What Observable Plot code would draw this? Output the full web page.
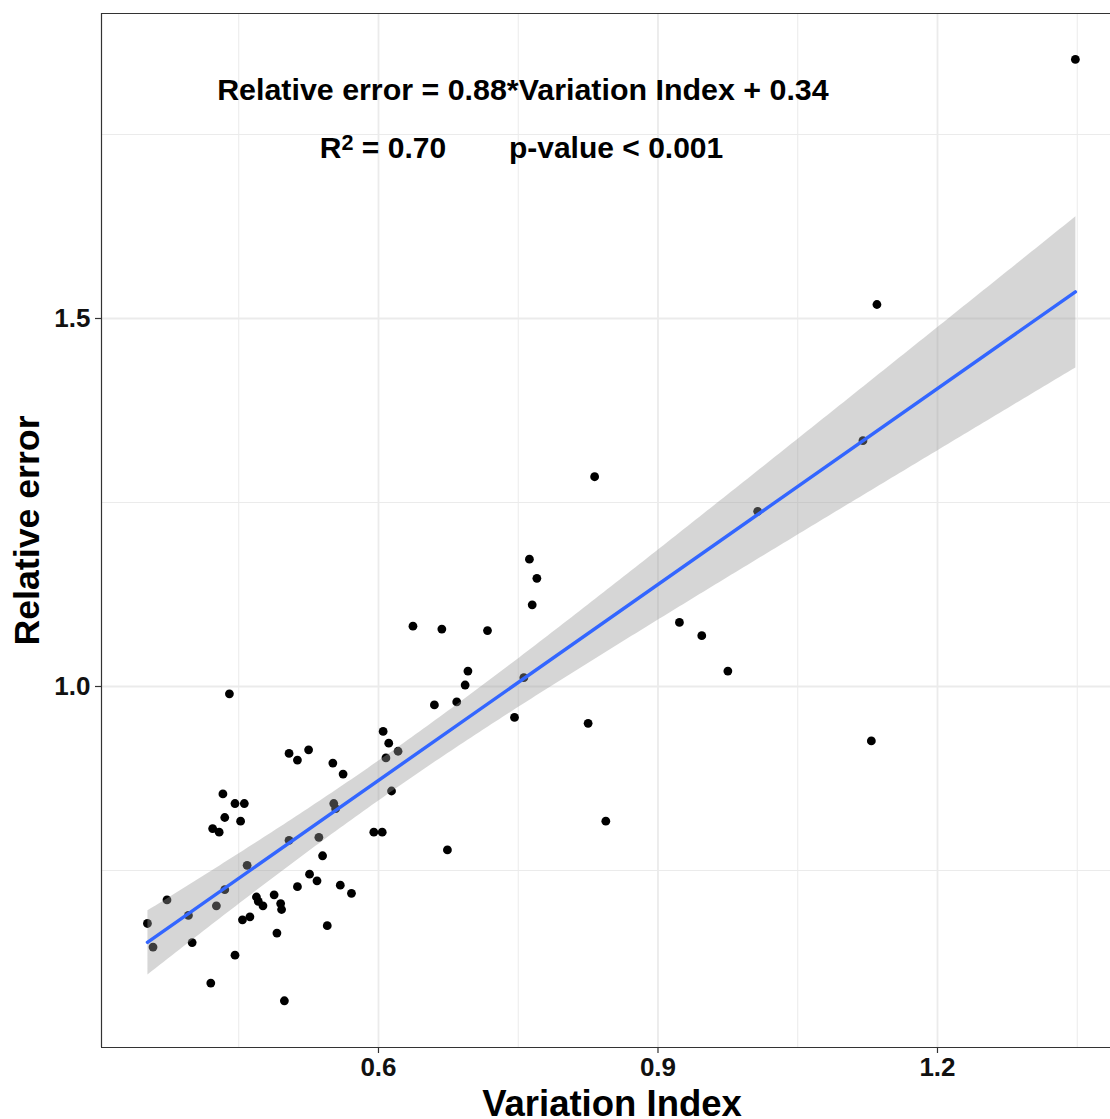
<!DOCTYPE html>
<html>
<head>
<meta charset="utf-8">
<script src="https://cdn.jsdelivr.net/npm/d3@7"></script>
<script src="https://cdn.jsdelivr.net/npm/@observablehq/plot@0.6"></script>
<style>
  html, body { margin: 0; padding: 0; background: #fff; overflow: hidden; }
  #chart svg { display: block; }
</style>
</head>
<body>
<div id="chart"></div>
<script>
// Variation Index (x) and Relative error (y)
const variationIndex = [
  0.440, 0.605, 0.611, 0.621, 0.608, 0.614, 0.504, 0.513, 0.525, 0.551,
  0.562, 0.552, 0.554, 0.536, 0.540, 0.595, 0.604, 0.504, 0.433, 0.446,
  0.456, 0.435, 0.452, 0.422, 0.429, 0.459, 0.435, 0.426, 0.396, 0.373,
  0.352, 0.358, 0.400, 0.420, 0.446, 0.454, 0.462, 0.469, 0.471, 0.476,
  0.488, 0.495, 0.496, 0.491, 0.499, 0.513, 0.526, 0.534, 0.545, 0.559,
  0.571, 0.637, 0.668, 0.717, 0.762, 0.770, 0.765, 0.696, 0.693, 0.684,
  0.660, 0.756, 0.746, 0.825, 0.844, 0.674, 0.832, 1.007, 1.120, 0.923,
  0.947, 0.975, 1.129, 1.135, 1.348
];
const relativeError = [
  0.990, 0.939, 0.923, 0.912, 0.903, 0.858, 0.909, 0.900, 0.914, 0.896,
  0.881, 0.841, 0.834, 0.795, 0.770, 0.802, 0.802, 0.791, 0.854, 0.841,
  0.841, 0.822, 0.817, 0.807, 0.802, 0.757, 0.724, 0.702, 0.689, 0.710,
  0.678, 0.646, 0.652, 0.597, 0.635, 0.683, 0.687, 0.714, 0.708, 0.702,
  0.717, 0.705, 0.697, 0.665, 0.573, 0.728, 0.745, 0.736, 0.675, 0.730,
  0.719, 1.082, 1.078, 1.076, 1.173, 1.147, 1.111, 1.021, 1.002, 0.979,
  0.975, 1.012, 0.958, 0.950, 0.817, 0.778, 1.285, 1.238, 1.334, 1.087,
  1.069, 1.021, 0.926, 1.519, 1.852
];

// Axis ticks and gridlines
const xTicks = [0.6, 0.9, 1.2];
const yTicks = [1.0, 1.5];
const xMinor = [0.45, 0.75, 1.05, 1.35];
const yMinor = [0.75, 1.25, 1.75];
const xDomain = [0.3027, 1.3857];
const yDomain = [0.5095, 1.9144];

// Texts
const xTitle = "Variation Index";
const yTitle = "Relative error";
const equationText = "Relative error = 0.88*Variation Index + 0.34";
const r2Text = "R2 = 0.70";
const pText = "p-value < 0.001";

const data = variationIndex.map((v, i) => ({vi: v, re: relativeError[i]}));

const font = "'Liberation Sans', Arial, Helvetica, sans-serif";

const chart = Plot.plot({
  width: 1110,
  height: 1119,
  marginLeft: 101,
  marginRight: 0,
  marginTop: 13,
  marginBottom: 72,
  style: {fontFamily: font, background: "#fff", overflow: "visible"},
  x: {domain: xDomain, label: null},
  y: {domain: yDomain, label: null},
  marks: [
    Plot.ruleX(xMinor, {stroke: "#ebebeb", strokeWidth: 1}),
    Plot.ruleY(yMinor, {stroke: "#ebebeb", strokeWidth: 1}),
    Plot.ruleX(xTicks, {stroke: "#ebebeb", strokeWidth: 1.8}),
    Plot.ruleY(yTicks, {stroke: "#ebebeb", strokeWidth: 1.8}),
    Plot.dot(data, {x: "vi", y: "re", r: 4.4, fill: "#000", stroke: "none"}),
    Plot.linearRegressionY(data, {
      x: "vi", y: "re",
      stroke: "#3366FF", strokeWidth: 3.4,
      fill: "#999999", fillOpacity: 0.4, ci: 0.95
    }),
    // panel border (left, top, bottom)
    Plot.ruleX([xDomain[0]], {stroke: "#333", strokeWidth: 1.2}),
    Plot.ruleY([yDomain[0], yDomain[1]], {stroke: "#333", strokeWidth: 1.2}),
    Plot.axisX(xTicks, {
      tickSize: 6, tickPadding: 4, stroke: "#333", strokeWidth: 1.2,
      tickFormat: d3.format(".1f"), fontSize: 26, fontWeight: "bold",
      fill: "#111", label: null
    }),
    Plot.axisY(yTicks, {
      tickSize: 6, tickPadding: 5, stroke: "#333", strokeWidth: 1.2,
      tickFormat: d3.format(".1f"), fontSize: 26, fontWeight: "bold",
      fill: "#111", label: null
    }),
    Plot.text([xTitle], {
      frameAnchor: "bottom", dy: 57, dx: 6, fontSize: 36.5, fontWeight: "bold",
      fill: "#000", lineAnchor: "middle", textAnchor: "middle"
    }),
    Plot.text([yTitle], {
      frameAnchor: "left", dx: -74, rotate: -90, fontSize: 35.7, fontWeight: "bold",
      fill: "#000", lineAnchor: "middle", textAnchor: "middle"
    }),
    Plot.text([equationText], {
      x: 0.755, y: 1.8098, fontSize: 30.4, fontWeight: "bold", fill: "#000",
      lineAnchor: "middle"
    }),
    Plot.text([r2Text], {
      x: 0.6048, y: 1.731, fontSize: 30, fontWeight: "bold", fill: "#000",
      lineAnchor: "middle", className: "r2label"
    }),
    Plot.text([pText], {
      x: 0.855, y: 1.731, fontSize: 30, fontWeight: "bold", fill: "#000",
      lineAnchor: "middle"
    })
  ]
});

// superscript the "2" in R2
d3.select(chart).selectAll("g.r2label text").each(function() {
  const t = d3.select(this);
  const s = t.text();
  t.text(null);
  t.append("tspan").text(s.slice(0, 1));
  t.append("tspan").attr("dy", "-0.38em").attr("font-size", "0.72em").text(s.slice(1, 2));
  t.append("tspan").attr("dy", "0.27em").text(s.slice(2));
});

document.getElementById("chart").appendChild(chart);
</script>
</body>
</html>
